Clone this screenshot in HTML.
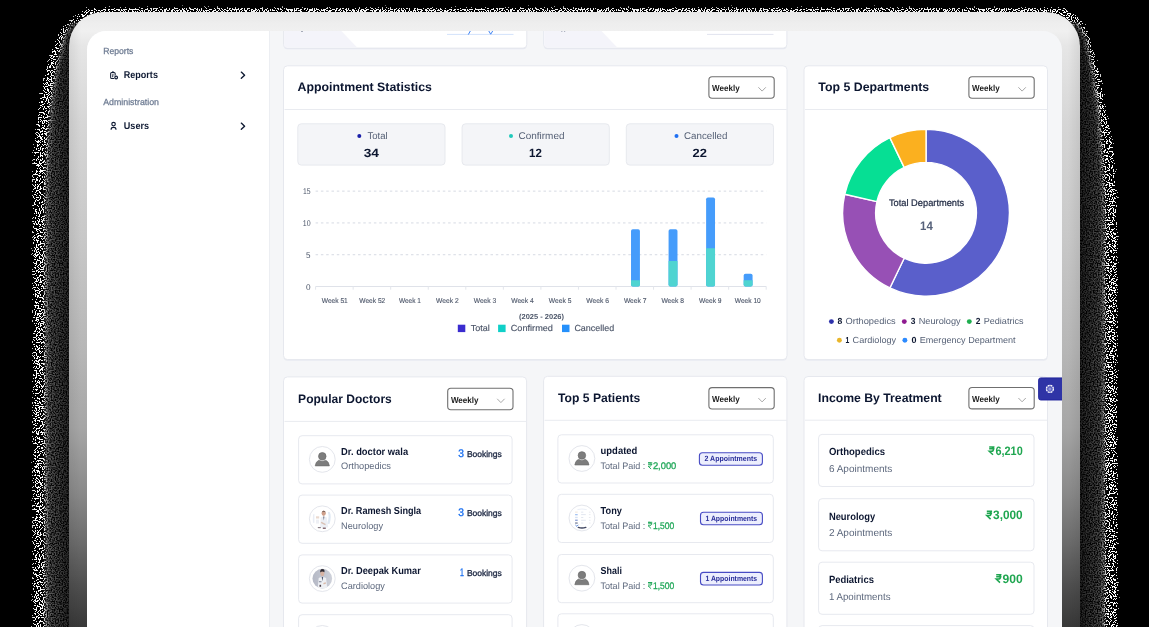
<!DOCTYPE html>
<html>
<head>
<meta charset="utf-8">
<style>
*{box-sizing:border-box;margin:0;padding:0}
html,body{width:1149px;height:627px;overflow:hidden;background:#000}
body{font-family:"Liberation Sans",sans-serif;position:relative;color:#0f1a33}
#shadow{position:absolute;left:0;top:0;width:1149px;height:627px}
#bezel{position:absolute;left:69px;top:12px;width:1011px;height:700px;border-radius:34px;
 background:linear-gradient(180deg,#e7e7e7 0px,#eeeeee 12px,#f0f0f0 19px,#e6e6e6 34px,#d6d6d6 110px,#c8c8c8 225px,#b6b6b6 340px,#a6a6a6 415px,#8a8a8a 480px,#6c6c6c 530px,#4e4e4e 575px,#383838 615px,#333 700px);}
#bezel:before{content:"";position:absolute;left:0;top:0;right:0;bottom:0;border-radius:34px;
 background:linear-gradient(90deg,rgba(0,0,0,.07) 0px,rgba(0,0,0,0) 12px,rgba(0,0,0,0) 999px,rgba(0,0,0,.07) 1011px)}
#screen{position:absolute;left:87px;top:31px;width:975px;height:620px;border-radius:19px 19px 0 0;background:#f5f6f8;overflow:hidden}
/* coordinates inside #screen are offset by (-87,-31) : use wrapper */
#page{position:absolute;left:-87px;top:-31px;width:1149px;height:700px}
#sidebar{position:absolute;left:87px;top:31px;width:183px;height:620px;background:#fff;border-right:1px solid #eceef2}
</style>
</head>
<body>
<svg id="shadow" width="1149" height="627" viewBox="0 0 1149 627">
<defs>
<filter id="nz" x="0" y="0" width="1149" height="627" filterUnits="userSpaceOnUse" color-interpolation-filters="sRGB">
<feTurbulence type="fractalNoise" baseFrequency="0.74" numOctaves="1" seed="7" result="t"/>
<feColorMatrix in="t" type="matrix" values="1 0 0 0 0  1 0 0 0 0  1 0 0 0 0  0 0 0 0 1" result="tn"/>
<feColorMatrix in="t" type="matrix" values="0 3.2 0 0 -1.05  0 3.2 0 0 -1.05  0 3.2 0 0 -1.05  0 0 0 0 1" result="tc"/>
<feGaussianBlur in="SourceGraphic" stdDeviation="2.2" result="sb"/>
<feColorMatrix in="sb" type="matrix" values="1 0 0 0 0  1 0 0 0 0  1 0 0 0 0  0 0 0 0 1" result="ed"/>
<feColorMatrix in="sb" type="matrix" values="0 1 0 0 0  0 1 0 0 0  0 1 0 0 0  0 0 0 0 1" result="eb"/>
<feColorMatrix in="sb" type="matrix" values="0 0 1 0 0  0 0 1 0 0  0 0 1 0 0  0 0 0 0 1" result="em"/>
<feColorMatrix in="sb" type="matrix" values="0 0 -1 0 1  0 0 -1 0 1  0 0 -1 0 1  0 0 0 0 1" result="ei"/>
<feComposite in="tn" in2="ed" operator="arithmetic" k1="0" k2="1" k3="1" k4="-1" result="s"/>
<feColorMatrix in="s" type="matrix" values="255 0 0 0 0  255 0 0 0 0  255 0 0 0 0  0 0 0 0 1" result="bin"/>
<feComposite in="bin" in2="ei" operator="arithmetic" k1="1" k2="0" k3="0" k4="0" result="b1"/>
<feComposite in="tc" in2="em" operator="arithmetic" k1="1" k2="0" k3="0" k4="0" result="c1"/>
<feComposite in="b1" in2="c1" operator="arithmetic" k1="0" k2="1" k3="1" k4="0" result="mix"/>
<feComposite in="mix" in2="eb" operator="arithmetic" k1="1" k2="0" k3="0" k4="0"/>
</filter>
<linearGradient id="dl" gradientUnits="userSpaceOnUse" x1="45" y1="0" x2="70" y2="0"><stop offset="0" stop-color="rgb(120,98,255)"/><stop offset="1" stop-color="rgb(120,40,255)"/></linearGradient>
<linearGradient id="dr" gradientUnits="userSpaceOnUse" x1="1105" y1="0" x2="1079" y2="0"><stop offset="0" stop-color="rgb(120,84,255)"/><stop offset="1" stop-color="rgb(120,34,255)"/></linearGradient>
</defs>
<g filter="url(#nz)">
<rect width="1149" height="627" fill="#000"/>
<rect x="88" y="6" width="976" height="9" fill="rgb(128,255,0)"/>
<polygon fill="rgb(117,255,0)" points="110,5 86,6 73,15 59,28 50,49 42.5,75 37,100 34.6,125 31.5,150 30.6,180 30.6,640 110,640"/>
<polygon fill="rgb(117,255,0)" points="1040,5 1066,6 1077,13 1084,20 1090,31 1096,52 1103.5,78 1107,103 1112,128 1116.5,152 1119.5,200 1120,640 1040,640"/>
<polygon fill="url(#dl)" points="72,24 65,38 57,70 52,105 48,150 46.5,190 46.5,640 80,640 80,24"/>
<polygon fill="url(#dr)" points="1077,24 1085,38 1092,70 1097,105 1101,150 1103.5,200 1103.5,640 1070,640 1070,24"/>
</g>
</svg>
<div id="bezel"></div>
<div id="screen"><div id="page">
<div id="sidebar"></div>
<svg id="content" width="1149" height="700" viewBox="0 0 1149 700" font-family="Liberation Sans, sans-serif" style="position:absolute;left:0;top:0;will-change:transform;-webkit-font-smoothing:antialiased;text-rendering:geometricPrecision">
<text x="103.2" y="53.6" font-size="8.8" font-weight="400" fill="#6c7a91" text-anchor="start" textLength="30.2" lengthAdjust="spacingAndGlyphs" stroke="#6c7a91" stroke-width=".25">Reports</text>
<text x="103.2" y="104.7" font-size="8.8" font-weight="400" fill="#6c7a91" text-anchor="start" textLength="55.8" lengthAdjust="spacingAndGlyphs" stroke="#6c7a91" stroke-width=".25">Administration</text>
<text x="123.8" y="78.3" font-size="9.9" font-weight="700" fill="#0f1a33" text-anchor="start" textLength="34.1" lengthAdjust="spacingAndGlyphs">Reports</text>
<text x="123.8" y="129.3" font-size="9.9" font-weight="700" fill="#0f1a33" text-anchor="start" textLength="25.2" lengthAdjust="spacingAndGlyphs">Users</text>
<path d="M241.3 72.1L244.6 75.2L241.3 78.3" fill="none" stroke="#0f1a33" stroke-width="1.35" stroke-linecap="round" stroke-linejoin="round"/>
<path d="M241.3 123.1L244.6 126.2L241.3 129.3" fill="none" stroke="#0f1a33" stroke-width="1.35" stroke-linecap="round" stroke-linejoin="round"/>
<g fill="none" stroke="#0f1a33" stroke-width="1.05" stroke-linejoin="round" stroke-linecap="round"><rect x="110.65" y="72.4" width="4.5" height="6.1" rx="1.1"/><path d="M112 72.1Q112.9 70.7 113.8 72.1" stroke-width=".95"/><path d="M113 74.1L112.7 76.8" stroke-width=".95"/></g><circle cx="116.15" cy="77.5" r="2.35" fill="#fff"/><circle cx="116.15" cy="77.5" r="1.35" fill="#fff" stroke="#0f1a33" stroke-width="1.15"/>
<g fill="none" stroke="#0f1a33" stroke-width="1.15" stroke-linecap="butt"><circle cx="113.55" cy="124.1" r="1.75"/><path d="M111.15 129.7V129.2Q111.15 127.3 113.55 127.3Q115.95 127.3 115.95 129.2V129.7"/></g>
<path d="M283.6 25V45.5Q283.6 49.2 287.3 49.2H523.0999999999999Q526.8 49.2 526.8 45.5V25Z" fill="#e6e8f1"/>
<path d="M283.6 25V44.4Q283.6 48.1 287.3 48.1H523.0999999999999Q526.8 48.1 526.8 44.4V25Z" fill="#fff" stroke="#e6e8ee"/>
<path d="M284.1 25V44.4Q284.1 47.6 287.3 47.6H357.1L335.6 25Z" fill="#f4f4fa"/>
<path d="M543.7 25V45.5Q543.7 49.2 547.4000000000001 49.2H783.2Q786.9000000000001 49.2 786.9000000000001 45.5V25Z" fill="#e6e8f1"/>
<path d="M543.7 25V44.4Q543.7 48.1 547.4000000000001 48.1H783.2Q786.9000000000001 48.1 786.9000000000001 44.4V25Z" fill="#fff" stroke="#e6e8ee"/>
<path d="M544.2 25V44.4Q544.2 47.6 547.4000000000001 47.6H617.2L595.7 25Z" fill="#f4f4fa"/>
<path d="M447 34.4H513.5" stroke="#d3e2fb" stroke-width="1"/>
<path d="M468.3 34.6L470.6 30.5M488.5 30.5L490.7 34.2L493 30.5" fill="none" stroke="#3f84f5" stroke-width="1"/>
<path d="M707 34.4H773.5" stroke="#e1e4ef" stroke-width="1"/>
<rect x="301.2" y="30.5" width="1.6" height="1.2" fill="#6b7487"/><rect x="561.2" y="30.5" width="1.2" height="1" fill="#6b7487"/><rect x="564" y="30.5" width="1.2" height="1" fill="#6b7487"/>
<rect x="283.50" y="66.90" width="503.50" height="293.80" rx="4" fill="#e9ebf1"/>
<rect x="283.50" y="65.80" width="503.50" height="293.80" rx="4" fill="#fff" stroke="#e6e8ee" stroke-width="1"/>
<text x="297.6" y="91.4" font-size="12.3" font-weight="700" fill="#0c1630" text-anchor="start" textLength="134.4" lengthAdjust="spacingAndGlyphs">Appointment Statistics</text>
<line x1="284.50" y1="109.50" x2="786.70" y2="109.50" stroke="#e9ebf0" stroke-width="1"/>
<rect x="708.90" y="76.80" width="65.30" height="21.40" rx="3.2" fill="#fff" stroke="#6f6f6f" stroke-width="1.1"/>
<text x="712.1" y="91.3" font-size="8.6" font-weight="700" fill="#1c1c1c" text-anchor="start" textLength="27.6" lengthAdjust="spacingAndGlyphs">Weekly</text>
<path d="M758.40 87.30L762.10 91.10L765.80 87.30" fill="none" stroke="#a9a9a9" stroke-width="1"/>
<rect x="297.80" y="123.80" width="147.20" height="41.30" rx="3.5" fill="#f4f5f8" stroke="#e7e9ee" stroke-width="1"/>
<circle cx="359.3" cy="135.9" r="2" fill="#1a1fa8"/>
<text x="367.5" y="139.2" font-size="9.8" font-weight="400" fill="#566176" text-anchor="start" textLength="20.2" lengthAdjust="spacingAndGlyphs">Total</text>
<text x="363.7" y="157.0" font-size="12" font-weight="700" fill="#0c1630" text-anchor="start" textLength="15.3" lengthAdjust="spacingAndGlyphs">34</text>
<rect x="462.10" y="123.80" width="147.20" height="41.30" rx="3.5" fill="#f4f5f8" stroke="#e7e9ee" stroke-width="1"/>
<circle cx="511.0" cy="135.9" r="2" fill="#1fc9bb"/>
<text x="518.5" y="139.2" font-size="9.8" font-weight="400" fill="#566176" text-anchor="start" textLength="46.0" lengthAdjust="spacingAndGlyphs">Confirmed</text>
<text x="529.0" y="157.0" font-size="12" font-weight="700" fill="#0c1630" text-anchor="start" textLength="12.8" lengthAdjust="spacingAndGlyphs">12</text>
<rect x="626.30" y="123.80" width="147.20" height="41.30" rx="3.5" fill="#f4f5f8" stroke="#e7e9ee" stroke-width="1"/>
<circle cx="676.5" cy="135.9" r="2" fill="#1e6ff2"/>
<text x="684.0" y="139.2" font-size="9.8" font-weight="400" fill="#566176" text-anchor="start" textLength="43.5" lengthAdjust="spacingAndGlyphs">Cancelled</text>
<text x="692.6" y="157.0" font-size="12" font-weight="700" fill="#0c1630" text-anchor="start" textLength="14.4" lengthAdjust="spacingAndGlyphs">22</text>
<line x1="315.60" y1="254.72" x2="766.30" y2="254.72" stroke="#d6dae3" stroke-width="1" stroke-dasharray="2.5 2.8"/>
<line x1="315.60" y1="222.93" x2="766.30" y2="222.93" stroke="#d6dae3" stroke-width="1" stroke-dasharray="2.5 2.8"/>
<line x1="315.60" y1="191.14" x2="766.30" y2="191.14" stroke="#d6dae3" stroke-width="1" stroke-dasharray="2.5 2.8"/>
<line x1="315.60" y1="286.50" x2="766.30" y2="286.50" stroke="#dfe2e9" stroke-width="1"/>
<line x1="315.60" y1="286.50" x2="315.60" y2="289.70" stroke="#e3e6ec" stroke-width="1"/>
<line x1="353.15" y1="286.50" x2="353.15" y2="289.70" stroke="#e3e6ec" stroke-width="1"/>
<line x1="390.70" y1="286.50" x2="390.70" y2="289.70" stroke="#e3e6ec" stroke-width="1"/>
<line x1="428.25" y1="286.50" x2="428.25" y2="289.70" stroke="#e3e6ec" stroke-width="1"/>
<line x1="465.80" y1="286.50" x2="465.80" y2="289.70" stroke="#e3e6ec" stroke-width="1"/>
<line x1="503.35" y1="286.50" x2="503.35" y2="289.70" stroke="#e3e6ec" stroke-width="1"/>
<line x1="540.90" y1="286.50" x2="540.90" y2="289.70" stroke="#e3e6ec" stroke-width="1"/>
<line x1="578.45" y1="286.50" x2="578.45" y2="289.70" stroke="#e3e6ec" stroke-width="1"/>
<line x1="616.00" y1="286.50" x2="616.00" y2="289.70" stroke="#e3e6ec" stroke-width="1"/>
<line x1="653.55" y1="286.50" x2="653.55" y2="289.70" stroke="#e3e6ec" stroke-width="1"/>
<line x1="691.10" y1="286.50" x2="691.10" y2="289.70" stroke="#e3e6ec" stroke-width="1"/>
<line x1="728.65" y1="286.50" x2="728.65" y2="289.70" stroke="#e3e6ec" stroke-width="1"/>
<line x1="766.20" y1="286.50" x2="766.20" y2="289.70" stroke="#e3e6ec" stroke-width="1"/>
<text x="310.6" y="194.1" font-size="8.4" font-weight="400" fill="#4b5568" text-anchor="end" textLength="7.6" lengthAdjust="spacingAndGlyphs">15</text>
<text x="310.6" y="225.9" font-size="8.4" font-weight="400" fill="#4b5568" text-anchor="end" textLength="7.8" lengthAdjust="spacingAndGlyphs">10</text>
<text x="310.6" y="257.7" font-size="8.4" font-weight="400" fill="#4b5568" text-anchor="end" textLength="4.5" lengthAdjust="spacingAndGlyphs">5</text>
<text x="310.6" y="289.5" font-size="8.4" font-weight="400" fill="#4b5568" text-anchor="end" textLength="4.6" lengthAdjust="spacingAndGlyphs">0</text>
<text x="334.8" y="302.7" font-size="7.1" font-weight="400" fill="#4b5568" text-anchor="middle" textLength="26.0" lengthAdjust="spacingAndGlyphs" stroke="#4b5568" stroke-width=".12">Week 51</text>
<text x="372.3" y="302.7" font-size="7.1" font-weight="400" fill="#4b5568" text-anchor="middle" textLength="26.0" lengthAdjust="spacingAndGlyphs" stroke="#4b5568" stroke-width=".12">Week 52</text>
<text x="409.9" y="302.7" font-size="7.1" font-weight="400" fill="#4b5568" text-anchor="middle" textLength="22.0" lengthAdjust="spacingAndGlyphs" stroke="#4b5568" stroke-width=".12">Week 1</text>
<text x="447.4" y="302.7" font-size="7.1" font-weight="400" fill="#4b5568" text-anchor="middle" textLength="22.6" lengthAdjust="spacingAndGlyphs" stroke="#4b5568" stroke-width=".12">Week 2</text>
<text x="485.0" y="302.7" font-size="7.1" font-weight="400" fill="#4b5568" text-anchor="middle" textLength="22.6" lengthAdjust="spacingAndGlyphs" stroke="#4b5568" stroke-width=".12">Week 3</text>
<text x="522.5" y="302.7" font-size="7.1" font-weight="400" fill="#4b5568" text-anchor="middle" textLength="22.6" lengthAdjust="spacingAndGlyphs" stroke="#4b5568" stroke-width=".12">Week 4</text>
<text x="560.1" y="302.7" font-size="7.1" font-weight="400" fill="#4b5568" text-anchor="middle" textLength="22.6" lengthAdjust="spacingAndGlyphs" stroke="#4b5568" stroke-width=".12">Week 5</text>
<text x="597.6" y="302.7" font-size="7.1" font-weight="400" fill="#4b5568" text-anchor="middle" textLength="22.6" lengthAdjust="spacingAndGlyphs" stroke="#4b5568" stroke-width=".12">Week 6</text>
<text x="635.2" y="302.7" font-size="7.1" font-weight="400" fill="#4b5568" text-anchor="middle" textLength="22.6" lengthAdjust="spacingAndGlyphs" stroke="#4b5568" stroke-width=".12">Week 7</text>
<text x="672.7" y="302.7" font-size="7.1" font-weight="400" fill="#4b5568" text-anchor="middle" textLength="22.6" lengthAdjust="spacingAndGlyphs" stroke="#4b5568" stroke-width=".12">Week 8</text>
<text x="710.3" y="302.7" font-size="7.1" font-weight="400" fill="#4b5568" text-anchor="middle" textLength="22.6" lengthAdjust="spacingAndGlyphs" stroke="#4b5568" stroke-width=".12">Week 9</text>
<text x="747.8" y="302.7" font-size="7.1" font-weight="400" fill="#4b5568" text-anchor="middle" textLength="26.0" lengthAdjust="spacingAndGlyphs" stroke="#4b5568" stroke-width=".12">Week 10</text>
<rect x="631.02" y="229.29" width="8.9" height="57.21" rx="1.8" fill="#459cfb"/>
<path d="M631.02 280.14H639.93V284.70Q639.93 286.50 638.13 286.50H632.82Q631.02 286.50 631.02 284.70Z" fill="#4fd4d1"/>
<rect x="668.58" y="229.29" width="8.9" height="57.21" rx="1.8" fill="#459cfb"/>
<path d="M668.58 261.07H677.48V284.70Q677.48 286.50 675.68 286.50H670.38Q668.58 286.50 668.58 284.70Z" fill="#4fd4d1"/>
<rect x="706.12" y="197.50" width="8.9" height="89.00" rx="1.8" fill="#459cfb"/>
<path d="M706.12 248.36H715.03V284.70Q715.03 286.50 713.23 286.50H707.92Q706.12 286.50 706.12 284.70Z" fill="#4fd4d1"/>
<rect x="743.67" y="273.79" width="8.9" height="12.71" rx="1.8" fill="#459cfb"/>
<path d="M743.67 280.14H752.58V284.70Q752.58 286.50 750.78 286.50H745.47Q743.67 286.50 743.67 284.70Z" fill="#4fd4d1"/>
<text x="541.5" y="319.4" font-size="7.2" font-weight="700" fill="#4b5568" text-anchor="middle" textLength="45.0" lengthAdjust="spacingAndGlyphs">(2025 - 2026)</text>
<rect x="457.80" y="324.70" width="7.50" height="7.40" rx="0" fill="#3a2ccf"/>
<text x="470.7" y="331.2" font-size="8.8" font-weight="400" fill="#4b5568" text-anchor="start" textLength="19.0" lengthAdjust="spacingAndGlyphs" stroke="#4b5568" stroke-width=".15">Total</text>
<rect x="498.10" y="324.70" width="7.50" height="7.40" rx="0" fill="#0fd0c8"/>
<text x="510.7" y="331.2" font-size="8.8" font-weight="400" fill="#4b5568" text-anchor="start" textLength="42.3" lengthAdjust="spacingAndGlyphs" stroke="#4b5568" stroke-width=".15">Confirmed</text>
<rect x="562.00" y="324.70" width="7.50" height="7.40" rx="0" fill="#2590fb"/>
<text x="574.4" y="331.2" font-size="8.8" font-weight="400" fill="#4b5568" text-anchor="start" textLength="39.8" lengthAdjust="spacingAndGlyphs" stroke="#4b5568" stroke-width=".15">Cancelled</text>
<rect x="804.00" y="66.90" width="243.50" height="293.80" rx="4" fill="#e9ebf1"/>
<rect x="804.00" y="65.80" width="243.50" height="293.80" rx="4" fill="#fff" stroke="#e6e8ee" stroke-width="1"/>
<text x="818.3" y="91.3" font-size="12.3" font-weight="700" fill="#0c1630" text-anchor="start" textLength="110.9" lengthAdjust="spacingAndGlyphs">Top 5 Departments</text>
<line x1="805.00" y1="109.50" x2="1047.20" y2="109.50" stroke="#e9ebf0" stroke-width="1"/>
<rect x="968.90" y="76.80" width="65.30" height="21.40" rx="3.2" fill="#fff" stroke="#6f6f6f" stroke-width="1.1"/>
<text x="972.1" y="91.3" font-size="8.6" font-weight="700" fill="#1c1c1c" text-anchor="start" textLength="27.6" lengthAdjust="spacingAndGlyphs">Weekly</text>
<path d="M1018.40 87.30L1022.10 91.10L1025.80 87.30" fill="none" stroke="#a9a9a9" stroke-width="1"/>
<path d="M926.05 129.40A83.4 83.4 0 1 1 889.86 287.94L904.18 258.21A50.4 50.4 0 1 0 926.05 162.40Z" fill="#5a5fcb" stroke="#fff" stroke-width="1.4" stroke-linejoin="round"/>
<path d="M889.86 287.94A83.4 83.4 0 0 1 844.74 194.24L876.91 201.58A50.4 50.4 0 0 0 904.18 258.21Z" fill="#9750b5" stroke="#fff" stroke-width="1.4" stroke-linejoin="round"/>
<path d="M844.74 194.24A83.4 83.4 0 0 1 889.86 137.66L904.18 167.39A50.4 50.4 0 0 0 876.91 201.58Z" fill="#06df94" stroke="#fff" stroke-width="1.4" stroke-linejoin="round"/>
<path d="M889.86 137.66A83.4 83.4 0 0 1 926.05 129.40L926.05 162.40A50.4 50.4 0 0 0 904.18 167.39Z" fill="#fbb01f" stroke="#fff" stroke-width="1.4" stroke-linejoin="round"/>
<text x="926.6" y="205.9" font-size="9.6" font-weight="400" fill="#1d2740" text-anchor="middle" textLength="75.3" lengthAdjust="spacingAndGlyphs" stroke="#1d2740" stroke-width=".22">Total Departments</text>
<text x="926.4" y="230.0" font-size="12.2" font-weight="700" fill="#56617a" text-anchor="middle" textLength="12.7" lengthAdjust="spacingAndGlyphs">14</text>
<circle cx="831.4" cy="321.6" r="2.45" fill="#2d31ab"/>
<text x="837.6" y="324.2" font-size="8.8" font-weight="700" fill="#0c1630" text-anchor="start" textLength="4.8" lengthAdjust="spacingAndGlyphs">8</text>
<text x="845.6" y="324.2" font-size="8.8" font-weight="400" fill="#566176" text-anchor="start" textLength="50.1" lengthAdjust="spacingAndGlyphs">Orthopedics</text>
<circle cx="904.3" cy="321.6" r="2.45" fill="#8f1a90"/>
<text x="910.7" y="324.2" font-size="8.8" font-weight="700" fill="#0c1630" text-anchor="start" textLength="4.7" lengthAdjust="spacingAndGlyphs">3</text>
<text x="918.7" y="324.2" font-size="8.8" font-weight="400" fill="#566176" text-anchor="start" textLength="42.0" lengthAdjust="spacingAndGlyphs">Neurology</text>
<circle cx="969.3" cy="321.6" r="2.45" fill="#1fae4f"/>
<text x="975.7" y="324.2" font-size="8.8" font-weight="700" fill="#0c1630" text-anchor="start" textLength="4.7" lengthAdjust="spacingAndGlyphs">2</text>
<text x="983.7" y="324.2" font-size="8.8" font-weight="400" fill="#566176" text-anchor="start" textLength="39.9" lengthAdjust="spacingAndGlyphs">Pediatrics</text>
<circle cx="839.4" cy="340.2" r="2.45" fill="#e9b62b"/>
<text x="845.6" y="342.8" font-size="8.8" font-weight="700" fill="#0c1630" text-anchor="start" textLength="3.8" lengthAdjust="spacingAndGlyphs">1</text>
<text x="852.6" y="342.8" font-size="8.8" font-weight="400" fill="#566176" text-anchor="start" textLength="43.5" lengthAdjust="spacingAndGlyphs">Cardiology</text>
<circle cx="904.9" cy="340.2" r="2.45" fill="#2d8bff"/>
<text x="911.5" y="342.8" font-size="8.8" font-weight="700" fill="#0c1630" text-anchor="start" textLength="5.0" lengthAdjust="spacingAndGlyphs">0</text>
<text x="919.7" y="342.8" font-size="8.8" font-weight="400" fill="#566176" text-anchor="start" textLength="95.9" lengthAdjust="spacingAndGlyphs">Emergency Department</text>
<defs><clipPath id="cp2"><circle cx="322.3" cy="519.2" r="10.3"/></clipPath><clipPath id="cp3"><circle cx="322.3" cy="578.8" r="9.8"/></clipPath><linearGradient id="g3" x1="0" x2="1" y1="0" y2="0"><stop offset="0" stop-color="#b4b8c5"/><stop offset="1" stop-color="#cdd0d9"/></linearGradient></defs>
<rect x="283.50" y="378.00" width="243.10" height="299.00" rx="4" fill="#e9ebf1"/>
<rect x="283.50" y="376.90" width="243.10" height="299.00" rx="4" fill="#fff" stroke="#e6e8ee" stroke-width="1"/>
<text x="298.1" y="403.1" font-size="12.3" font-weight="700" fill="#0c1630" text-anchor="start" textLength="93.7" lengthAdjust="spacingAndGlyphs">Popular Doctors</text>
<rect x="447.70" y="388.30" width="65.30" height="21.40" rx="3.2" fill="#fff" stroke="#6f6f6f" stroke-width="1.1"/>
<text x="450.9" y="402.8" font-size="8.6" font-weight="700" fill="#1c1c1c" text-anchor="start" textLength="27.6" lengthAdjust="spacingAndGlyphs">Weekly</text>
<path d="M497.20 398.80L500.90 402.60L504.60 398.80" fill="none" stroke="#a9a9a9" stroke-width="1"/>
<line x1="284.50" y1="421.40" x2="526.60" y2="421.40" stroke="#e9ebf0" stroke-width="1"/>
<rect x="298.60" y="435.70" width="213.50" height="48.20" rx="3.5" fill="#fff" stroke="#e7e9ef" stroke-width="1"/>
<circle cx="322.3" cy="459.4" r="12.9" fill="#fff" stroke="#e4e6ec" stroke-width="1"/>
<circle cx="322.3" cy="456.29999999999995" r="3.75" fill="#7d7d7d" stroke="#6a6a6a" stroke-width=".7"/>
<path d="M315.20 465.90Q315.70 461.60 318.80 460.20Q322.30 462.40 325.80 460.20Q328.90 461.60 329.40 465.90Z" fill="#7d7d7d" stroke="#6a6a6a" stroke-width=".6" stroke-linejoin="round"/>
<text x="341.1" y="454.8" font-size="10.2" font-weight="700" fill="#0c1630" text-anchor="start" textLength="67.0" lengthAdjust="spacingAndGlyphs">Dr. doctor wala</text>
<text x="341.1" y="469.4" font-size="9.4" font-weight="400" fill="#5d687d" text-anchor="start" textLength="49.8" lengthAdjust="spacingAndGlyphs">Orthopedics</text>
<text x="458.3" y="457.0" font-size="11" font-weight="400" fill="#1a6ff0" text-anchor="start" textLength="5.7" lengthAdjust="spacingAndGlyphs" stroke="#1a6ff0" stroke-width=".35">3</text>
<text x="466.9" y="457.0" font-size="8.6" font-weight="400" fill="#1a2540" text-anchor="start" textLength="34.9" lengthAdjust="spacingAndGlyphs" stroke="#1a2540" stroke-width=".3">Bookings</text>
<rect x="298.60" y="495.10" width="213.50" height="48.20" rx="3.5" fill="#fff" stroke="#e7e9ef" stroke-width="1"/>
<circle cx="322.3" cy="518.8000000000001" r="12.9" fill="#fff" stroke="#e4e6ec" stroke-width="1"/>
<g clip-path="url(#cp2)"><rect x="312.8" y="513.8000000000001" width="1.6" height="9" fill="#e9edf5"/><rect x="316.0" y="516.3000000000001" width="3.2" height="2.2" fill="#ead9cf"/><rect x="316.0" y="519.6" width="3" height="4" fill="#eef0f5"/><path d="M328.3 523.8000000000001Q330.8 516.8000000000001 328.8 511.80000000000007" stroke="#dfe8f3" stroke-width="2.2" fill="none"/><path d="M320.1 527.4000000000001L320.7 517.2Q323.7 515.6 326.7 517.2L328.3 527.4000000000001Z" fill="#eceff5"/><path d="M323.2 516.6L323.8 520.4000000000001L324.40000000000003 516.6Z" fill="#5d6478"/><ellipse cx="323.7" cy="513.2" rx="2.05" ry="2.7" fill="#cfa08b"/><path d="M321.6 512.5000000000001Q323.7 509.20000000000005 325.8 512.5000000000001Q323.7 511.20000000000005 321.6 512.5000000000001Z" fill="#6c5a55"/><path d="M321.1 522.3000000000001L325.5 524.6" stroke="#d9c1b4" stroke-width="1.4"/><rect x="317.8" y="527.0000000000001" width="3" height="1.2" fill="#8a7f86"/><rect x="322.8" y="527.6" width="3" height="1.2" fill="#6a4a55"/></g>
<text x="341.1" y="514.2" font-size="10.2" font-weight="700" fill="#0c1630" text-anchor="start" textLength="80.1" lengthAdjust="spacingAndGlyphs">Dr. Ramesh Singla</text>
<text x="341.1" y="528.8" font-size="9.4" font-weight="400" fill="#5d687d" text-anchor="start" textLength="41.9" lengthAdjust="spacingAndGlyphs">Neurology</text>
<text x="458.3" y="516.4" font-size="11" font-weight="400" fill="#1a6ff0" text-anchor="start" textLength="5.7" lengthAdjust="spacingAndGlyphs" stroke="#1a6ff0" stroke-width=".35">3</text>
<text x="466.9" y="516.4" font-size="8.6" font-weight="400" fill="#1a2540" text-anchor="start" textLength="34.9" lengthAdjust="spacingAndGlyphs" stroke="#1a2540" stroke-width=".3">Bookings</text>
<rect x="298.60" y="554.90" width="213.50" height="48.20" rx="3.5" fill="#fff" stroke="#e7e9ef" stroke-width="1"/>
<circle cx="322.3" cy="578.6" r="12.9" fill="#fff" stroke="#e4e6ec" stroke-width="1"/>
<circle cx="322.3" cy="578.6" r="9.8" fill="url(#g3)"/>
<g clip-path="url(#cp3)"><path d="M317.7 588.6L318.7 578.0Q322.5 576.0 326.1 578.0L327.3 588.6Z" fill="#eef0f4"/><path d="M321.7 577.0L322.40000000000003 581.2L323.2 577.0Z" fill="#4c5873"/><path d="M318.90000000000003 581.8000000000001H321.5" stroke="#7b8396" stroke-width="1.1"/><ellipse cx="322.3" cy="573.3000000000001" rx="2.0" ry="2.8" fill="#d7b3a3"/><path d="M320.1 572.4Q320.3 568.2 322.7 568.6Q324.90000000000003 568.8000000000001 324.40000000000003 572.2Q322.3 570.6 320.1 572.4Z" fill="#2e2b33"/><path d="M323.5 583.8000000000001L325.90000000000003 582.9" stroke="#d9b9a9" stroke-width="1.5"/><rect x="319.5" y="584.8000000000001" width="1.6" height="2" fill="#50434a"/></g>
<text x="341.1" y="574.0" font-size="10.2" font-weight="700" fill="#0c1630" text-anchor="start" textLength="79.7" lengthAdjust="spacingAndGlyphs">Dr. Deepak Kumar</text>
<text x="341.1" y="588.6" font-size="9.4" font-weight="400" fill="#5d687d" text-anchor="start" textLength="43.7" lengthAdjust="spacingAndGlyphs">Cardiology</text>
<text x="460.1" y="576.2" font-size="11" font-weight="400" fill="#1a6ff0" text-anchor="start" textLength="3.9" lengthAdjust="spacingAndGlyphs" stroke="#1a6ff0" stroke-width=".35">1</text>
<text x="466.9" y="576.2" font-size="8.6" font-weight="400" fill="#1a2540" text-anchor="start" textLength="34.9" lengthAdjust="spacingAndGlyphs" stroke="#1a2540" stroke-width=".3">Bookings</text>
<rect x="298.60" y="614.70" width="213.50" height="48.20" rx="3.5" fill="#fff" stroke="#e7e9ef" stroke-width="1"/>
<circle cx="322.3" cy="638.4000000000001" r="12.9" fill="#fff" stroke="#e4e6ec" stroke-width="1"/>
<circle cx="322.3" cy="638.4000000000001" r="10.5" fill="#e6e7ec"/>
<text x="341.1" y="634.7" font-size="10.2" font-weight="700" fill="#0c1630" text-anchor="start" textLength="75.0" lengthAdjust="spacingAndGlyphs">Dr. Sanjay Gupta</text>
<text x="341.1" y="648.4" font-size="9.4" font-weight="400" fill="#5d687d" text-anchor="start" textLength="40.0" lengthAdjust="spacingAndGlyphs">Pediatrics</text>
<text x="460.1" y="636.0" font-size="11" font-weight="400" fill="#1a6ff0" text-anchor="start" textLength="3.9" lengthAdjust="spacingAndGlyphs" stroke="#1a6ff0" stroke-width=".35">1</text>
<text x="466.9" y="636.0" font-size="8.6" font-weight="400" fill="#1a2540" text-anchor="start" textLength="34.9" lengthAdjust="spacingAndGlyphs" stroke="#1a2540" stroke-width=".3">Bookings</text>
<rect x="543.60" y="377.40" width="243.30" height="299.00" rx="4" fill="#e9ebf1"/>
<rect x="543.60" y="376.30" width="243.30" height="299.00" rx="4" fill="#fff" stroke="#e6e8ee" stroke-width="1"/>
<text x="558.1" y="402.3" font-size="12.3" font-weight="700" fill="#0c1630" text-anchor="start" textLength="82.1" lengthAdjust="spacingAndGlyphs">Top 5 Patients</text>
<rect x="708.90" y="387.60" width="65.30" height="21.40" rx="3.2" fill="#fff" stroke="#6f6f6f" stroke-width="1.1"/>
<text x="712.1" y="402.1" font-size="8.6" font-weight="700" fill="#1c1c1c" text-anchor="start" textLength="27.6" lengthAdjust="spacingAndGlyphs">Weekly</text>
<path d="M758.40 398.10L762.10 401.90L765.80 398.10" fill="none" stroke="#a9a9a9" stroke-width="1"/>
<line x1="544.60" y1="420.30" x2="786.80" y2="420.30" stroke="#e9ebf0" stroke-width="1"/>
<rect x="557.90" y="434.80" width="215.40" height="48.20" rx="3.5" fill="#fff" stroke="#e7e9ef" stroke-width="1"/>
<circle cx="581.9" cy="458.5" r="12.9" fill="#fff" stroke="#e4e6ec" stroke-width="1"/>
<circle cx="581.9" cy="455.4" r="3.75" fill="#7d7d7d" stroke="#6a6a6a" stroke-width=".7"/>
<path d="M574.80 465.00Q575.30 460.70 578.40 459.30Q581.90 461.50 585.40 459.30Q588.50 460.70 589.00 465.00Z" fill="#7d7d7d" stroke="#6a6a6a" stroke-width=".6" stroke-linejoin="round"/>
<text x="600.6" y="454.1" font-size="10.2" font-weight="700" fill="#0c1630" text-anchor="start" textLength="36.7" lengthAdjust="spacingAndGlyphs">updated</text>
<text x="600.6" y="469.0" font-size="9.4" font-weight="400" fill="#5d687d" text-anchor="start" textLength="44.6" lengthAdjust="spacingAndGlyphs">Total Paid :</text>
<g fill="none" stroke="#22a85a" stroke-width="1.0" stroke-linecap="butt" stroke-linejoin="miter"><path d="M648.10 462.80H652.25M648.10 464.31H652.25M648.10 462.80H649.68C652.05 462.80 652.05 466.19 649.68 466.19H648.10L651.09 469.00"/></g>
<text x="652.9" y="469.0" font-size="9.6" font-weight="400" fill="#22a85a" text-anchor="start" textLength="23.4" lengthAdjust="spacingAndGlyphs" stroke="#22a85a" stroke-width=".3">2,000</text>
<rect x="699.40" y="452.70" width="63.00" height="12.60" rx="3" fill="#eceefd" stroke="#474bc4" stroke-width="1.1"/>
<text x="704.5" y="461.3" font-size="7.6" font-weight="700" fill="#2a2e9a" text-anchor="start" textLength="52.7" lengthAdjust="spacingAndGlyphs">2 Appointments</text>
<rect x="557.90" y="494.30" width="215.40" height="48.20" rx="3.5" fill="#fff" stroke="#e7e9ef" stroke-width="1"/>
<circle cx="581.9" cy="518.0" r="12.9" fill="#fff" stroke="#e4e6ec" stroke-width="1"/>
<path d="M577.4 509.6Q581.9 508.4 586.6999999999999 509.6" stroke="#e6ebf5" stroke-width=".8" fill="none"/>
<rect x="575.1" y="511.5" width="2.6" height="1.3" fill="#f3e6d8" opacity=".8"/>
<rect x="581.1" y="511.7" width="2.2" height=".9" fill="#dfe4ee"/>
<rect x="588.9" y="511.7" width="1.6" height=".9" fill="#e6e8ee"/>
<rect x="575.1" y="514.0" width="2.6" height="1.3" fill="#8fb4ee" opacity=".8"/>
<rect x="581.1" y="514.2" width="4.7" height=".9" fill="#dfe4ee"/>
<rect x="588.9" y="514.2" width="1.6" height=".9" fill="#e6e8ee"/>
<rect x="575.1" y="516.8" width="2.6" height="1.3" fill="#c9d8f2" opacity=".8"/>
<rect x="581.1" y="517.0" width="2.2" height=".9" fill="#dfe4ee"/>
<rect x="588.9" y="517.0" width="1.6" height=".9" fill="#e6e8ee"/>
<rect x="575.1" y="519.6" width="2.6" height="1.3" fill="#6e86c8" opacity=".8"/>
<rect x="581.1" y="519.8000000000001" width="4.7" height=".9" fill="#dfe4ee"/>
<rect x="588.9" y="519.8000000000001" width="1.6" height=".9" fill="#e6e8ee"/>
<rect x="575.1" y="522.4" width="2.6" height="1.3" fill="#56607f" opacity=".8"/>
<rect x="581.1" y="522.6" width="2.2" height=".9" fill="#dfe4ee"/>
<rect x="588.9" y="522.6" width="1.6" height=".9" fill="#e6e8ee"/>
<path d="M575.4 525.0L576.9 526.3L578.3 524.8" stroke="#4f7fd6" stroke-width=".9" fill="none"/>
<path d="M578.3 527.4Q581.9 528.6 585.8 527.4" stroke="#3f4560" stroke-width="1.5" fill="none" stroke-linecap="round"/>
<text x="600.6" y="513.6" font-size="10.2" font-weight="700" fill="#0c1630" text-anchor="start" textLength="21.3" lengthAdjust="spacingAndGlyphs">Tony</text>
<text x="600.6" y="528.5" font-size="9.4" font-weight="400" fill="#5d687d" text-anchor="start" textLength="44.6" lengthAdjust="spacingAndGlyphs">Total Paid :</text>
<g fill="none" stroke="#22a85a" stroke-width="1.0" stroke-linecap="butt" stroke-linejoin="miter"><path d="M648.10 522.30H652.25M648.10 523.81H652.25M648.10 522.30H649.68C652.05 522.30 652.05 525.69 649.68 525.69H648.10L651.09 528.50"/></g>
<text x="652.9" y="528.5" font-size="9.6" font-weight="400" fill="#22a85a" text-anchor="start" textLength="21.4" lengthAdjust="spacingAndGlyphs" stroke="#22a85a" stroke-width=".3">1,500</text>
<rect x="700.50" y="512.20" width="61.90" height="12.60" rx="3" fill="#eceefd" stroke="#474bc4" stroke-width="1.1"/>
<text x="705.4" y="520.8" font-size="7.6" font-weight="700" fill="#2a2e9a" text-anchor="start" textLength="51.8" lengthAdjust="spacingAndGlyphs">1 Appointments</text>
<rect x="557.90" y="554.50" width="215.40" height="48.20" rx="3.5" fill="#fff" stroke="#e7e9ef" stroke-width="1"/>
<circle cx="581.9" cy="578.2" r="12.9" fill="#fff" stroke="#e4e6ec" stroke-width="1"/>
<circle cx="581.9" cy="575.1" r="3.75" fill="#7d7d7d" stroke="#6a6a6a" stroke-width=".7"/>
<path d="M574.80 584.70Q575.30 580.40 578.40 579.00Q581.90 581.20 585.40 579.00Q588.50 580.40 589.00 584.70Z" fill="#7d7d7d" stroke="#6a6a6a" stroke-width=".6" stroke-linejoin="round"/>
<text x="600.6" y="573.8" font-size="10.2" font-weight="700" fill="#0c1630" text-anchor="start" textLength="21.3" lengthAdjust="spacingAndGlyphs">Shali</text>
<text x="600.6" y="588.7" font-size="9.4" font-weight="400" fill="#5d687d" text-anchor="start" textLength="44.6" lengthAdjust="spacingAndGlyphs">Total Paid :</text>
<g fill="none" stroke="#22a85a" stroke-width="1.0" stroke-linecap="butt" stroke-linejoin="miter"><path d="M648.10 582.50H652.25M648.10 584.01H652.25M648.10 582.50H649.68C652.05 582.50 652.05 585.89 649.68 585.89H648.10L651.09 588.70"/></g>
<text x="652.9" y="588.7" font-size="9.6" font-weight="400" fill="#22a85a" text-anchor="start" textLength="21.4" lengthAdjust="spacingAndGlyphs" stroke="#22a85a" stroke-width=".3">1,500</text>
<rect x="700.50" y="572.40" width="61.90" height="12.60" rx="3" fill="#eceefd" stroke="#474bc4" stroke-width="1.1"/>
<text x="705.4" y="581.0" font-size="7.6" font-weight="700" fill="#2a2e9a" text-anchor="start" textLength="51.8" lengthAdjust="spacingAndGlyphs">1 Appointments</text>
<rect x="557.90" y="613.80" width="215.40" height="48.20" rx="3.5" fill="#fff" stroke="#e7e9ef" stroke-width="1"/>
<circle cx="581.9" cy="637.5" r="12.9" fill="#fff" stroke="#e4e6ec" stroke-width="1"/>
<circle cx="581.9" cy="634.4" r="3.75" fill="#7d7d7d" stroke="#6a6a6a" stroke-width=".7"/>
<path d="M574.80 644.00Q575.30 639.70 578.40 638.30Q581.90 640.50 585.40 638.30Q588.50 639.70 589.00 644.00Z" fill="#7d7d7d" stroke="#6a6a6a" stroke-width=".6" stroke-linejoin="round"/>
<text x="600.6" y="648.0" font-size="9.4" font-weight="400" fill="#5d687d" text-anchor="start" textLength="44.6" lengthAdjust="spacingAndGlyphs">Total Paid :</text>
<g fill="none" stroke="#22a85a" stroke-width="1.0" stroke-linecap="butt" stroke-linejoin="miter"><path d="M648.10 641.80H652.25M648.10 643.31H652.25M648.10 641.80H649.68C652.05 641.80 652.05 645.19 649.68 645.19H648.10L651.09 648.00"/></g>
<text x="652.9" y="648.0" font-size="9.6" font-weight="400" fill="#22a85a" text-anchor="start" textLength="21.4" lengthAdjust="spacingAndGlyphs" stroke="#22a85a" stroke-width=".3">1,200</text>
<rect x="700.50" y="631.70" width="61.90" height="12.60" rx="3" fill="#eceefd" stroke="#474bc4" stroke-width="1.1"/>
<text x="705.4" y="640.3" font-size="7.6" font-weight="700" fill="#2a2e9a" text-anchor="start" textLength="51.8" lengthAdjust="spacingAndGlyphs">1 Appointments</text>
<rect x="804.00" y="377.60" width="243.50" height="299.00" rx="4" fill="#e9ebf1"/>
<rect x="804.00" y="376.50" width="243.50" height="299.00" rx="4" fill="#fff" stroke="#e6e8ee" stroke-width="1"/>
<text x="818.1" y="402.2" font-size="12.3" font-weight="700" fill="#0c1630" text-anchor="start" textLength="123.6" lengthAdjust="spacingAndGlyphs">Income By Treatment</text>
<rect x="968.90" y="387.50" width="65.30" height="21.40" rx="3.2" fill="#fff" stroke="#6f6f6f" stroke-width="1.1"/>
<text x="972.1" y="402.0" font-size="8.6" font-weight="700" fill="#1c1c1c" text-anchor="start" textLength="27.6" lengthAdjust="spacingAndGlyphs">Weekly</text>
<path d="M1018.40 398.00L1022.10 401.80L1025.80 398.00" fill="none" stroke="#a9a9a9" stroke-width="1"/>
<line x1="805.00" y1="420.20" x2="1047.20" y2="420.20" stroke="#e9ebf0" stroke-width="1"/>
<rect x="818.60" y="434.40" width="215.40" height="52.10" rx="3.5" fill="#fff" stroke="#e7e9ef" stroke-width="1"/>
<text x="828.9" y="455.2" font-size="10.4" font-weight="700" fill="#0c1630" text-anchor="start" textLength="56.2" lengthAdjust="spacingAndGlyphs">Orthopedics</text>
<text x="828.9" y="471.8" font-size="10" font-weight="400" fill="#5d687d" text-anchor="start" textLength="63.4" lengthAdjust="spacingAndGlyphs">6 Apointments</text>
<g fill="none" stroke="#1fa650" stroke-width="1.5" stroke-linecap="butt" stroke-linejoin="miter"><path d="M989.20 447.05H994.47M989.20 448.85H994.47M989.20 447.05H991.20C994.21 447.05 994.21 451.23 991.20 451.23H989.20L992.99 454.80"/></g>
<text x="995.5" y="454.8" font-size="12.2" font-weight="700" fill="#1fa650" text-anchor="start" textLength="27.2" lengthAdjust="spacingAndGlyphs">6,210</text>
<rect x="818.60" y="498.70" width="215.40" height="52.10" rx="3.5" fill="#fff" stroke="#e7e9ef" stroke-width="1"/>
<text x="828.9" y="519.5" font-size="10.4" font-weight="700" fill="#0c1630" text-anchor="start" textLength="46.3" lengthAdjust="spacingAndGlyphs">Neurology</text>
<text x="828.9" y="536.1" font-size="10" font-weight="400" fill="#5d687d" text-anchor="start" textLength="63.4" lengthAdjust="spacingAndGlyphs">2 Apointments</text>
<g fill="none" stroke="#1fa650" stroke-width="1.5" stroke-linecap="butt" stroke-linejoin="miter"><path d="M986.80 511.35H992.07M986.80 513.15H992.07M986.80 511.35H988.80C991.81 511.35 991.81 515.53 988.80 515.53H986.80L990.59 519.10"/></g>
<text x="993.1" y="519.1" font-size="12.2" font-weight="700" fill="#1fa650" text-anchor="start" textLength="29.6" lengthAdjust="spacingAndGlyphs">3,000</text>
<rect x="818.60" y="562.20" width="215.40" height="52.10" rx="3.5" fill="#fff" stroke="#e7e9ef" stroke-width="1"/>
<text x="828.9" y="583.0" font-size="10.4" font-weight="700" fill="#0c1630" text-anchor="start" textLength="45.1" lengthAdjust="spacingAndGlyphs">Pediatrics</text>
<text x="828.9" y="599.6" font-size="10" font-weight="400" fill="#5d687d" text-anchor="start" textLength="61.6" lengthAdjust="spacingAndGlyphs">1 Apointments</text>
<g fill="none" stroke="#1fa650" stroke-width="1.5" stroke-linecap="butt" stroke-linejoin="miter"><path d="M996.20 574.85H1001.47M996.20 576.65H1001.47M996.20 574.85H998.20C1001.21 574.85 1001.21 579.03 998.20 579.03H996.20L999.99 582.60"/></g>
<text x="1002.5" y="582.6" font-size="12.2" font-weight="700" fill="#1fa650" text-anchor="start" textLength="20.2" lengthAdjust="spacingAndGlyphs">900</text>
<rect x="818.60" y="625.60" width="215.40" height="52.10" rx="3.5" fill="#fff" stroke="#e7e9ef" stroke-width="1"/>
<text x="828.9" y="646.4" font-size="10.4" font-weight="700" fill="#0c1630" text-anchor="start" textLength="48.0" lengthAdjust="spacingAndGlyphs">Cardiology</text>
<text x="828.9" y="663.0" font-size="10" font-weight="400" fill="#5d687d" text-anchor="start" textLength="61.6" lengthAdjust="spacingAndGlyphs">1 Apointments</text>
<g fill="none" stroke="#1fa650" stroke-width="1.5" stroke-linecap="butt" stroke-linejoin="miter"><path d="M996.20 638.25H1001.47M996.20 640.05H1001.47M996.20 638.25H998.20C1001.21 638.25 1001.21 642.43 998.20 642.43H996.20L999.99 646.00"/></g>
<text x="1002.5" y="646.0" font-size="12.2" font-weight="700" fill="#1fa650" text-anchor="start" textLength="20.2" lengthAdjust="spacingAndGlyphs">500</text>
<path d="M1040.8 377.9H1063V400H1040.8Q1038.6 400 1038.6 397.8V380.1Q1038.6 377.9 1040.8 377.9Z" fill="#2f34a6" stroke="#1d1f9b" stroke-width=".9"/>
<circle cx="1049.9" cy="388.9" r="3.5" fill="#5d61c0" stroke="#fff" stroke-width="1.25" stroke-dasharray="2.1 .65"/><circle cx="1049.9" cy="388.9" r="1.5" fill="#8f93dc"/>
</svg>
</div></div>
</body>
</html>
